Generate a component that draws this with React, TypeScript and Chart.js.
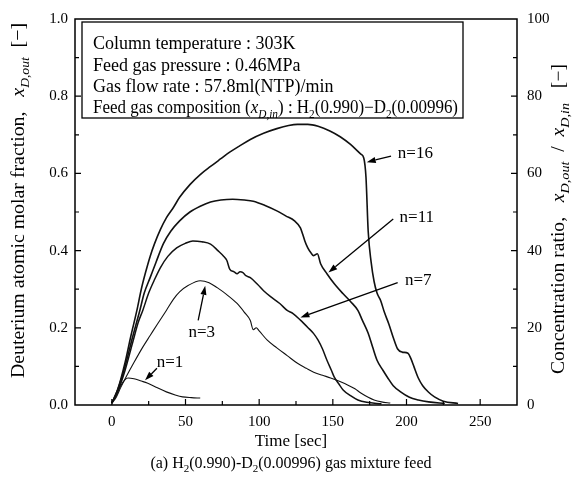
import React, { useEffect, useRef } from 'react';
import { Chart, registerables } from 'chart.js';
Chart.register(...registerables);

// ---- data (time [sec], deuterium atomic molar fraction) ----
const timeN16 = [0, 4, 9, 13, 17, 20, 23, 26, 29, 33, 37, 42, 46, 53, 60, 67, 74, 80, 87, 94, 103, 112, 120, 126, 133, 140, 148, 155, 162, 169, 171, 172.5, 174, 176, 178, 180, 182.5, 185, 188, 191, 194, 197, 201, 203, 205, 208, 211, 215, 219, 225, 235];
const fracN16 = [0.005, 0.04, 0.11, 0.18, 0.245, 0.3, 0.345, 0.385, 0.418, 0.455, 0.485, 0.513, 0.538, 0.571, 0.597, 0.618, 0.638, 0.655, 0.672, 0.688, 0.704, 0.716, 0.724, 0.727, 0.727, 0.722, 0.71, 0.695, 0.675, 0.65, 0.64, 0.59, 0.45, 0.37, 0.32, 0.29, 0.27, 0.24, 0.21, 0.175, 0.145, 0.137, 0.134, 0.12, 0.1, 0.07, 0.05, 0.033, 0.021, 0.01, 0.004];

const timeN11 = [0, 4, 9, 14, 19, 22, 26, 30, 35, 40, 46, 53, 60, 67, 74, 82, 90, 96, 104, 112, 118, 124, 128, 129.5, 131, 133, 135, 137, 139.5, 141.7, 146, 151, 157, 162, 167, 170, 174, 177, 180, 184, 187, 191, 196, 202, 208, 215, 226];
const fracN11 = [0.005, 0.04, 0.1, 0.175, 0.245, 0.29, 0.33, 0.37, 0.418, 0.45, 0.477, 0.5, 0.515, 0.526, 0.531, 0.533, 0.531, 0.528, 0.517, 0.503, 0.49, 0.477, 0.459, 0.443, 0.425, 0.407, 0.395, 0.387, 0.392, 0.366, 0.34, 0.314, 0.288, 0.268, 0.245, 0.22, 0.186, 0.15, 0.116, 0.09, 0.072, 0.05, 0.034, 0.02, 0.013, 0.008, 0.004];

const timeN7 = [0, 4, 9, 14, 18, 21, 25, 29, 33, 38, 44, 50, 55, 61, 67, 72, 76, 78, 80, 83, 85, 87, 89, 91, 94, 99, 103, 108, 114, 119, 123, 128, 133, 137, 140, 143, 146, 149, 151, 154, 157, 162, 167, 173, 183];
const fracN7 = [0.005, 0.035, 0.09, 0.16, 0.215, 0.245, 0.29, 0.325, 0.356, 0.385, 0.407, 0.419, 0.425, 0.423, 0.417, 0.4, 0.385, 0.375, 0.352, 0.345, 0.34, 0.345, 0.343, 0.335, 0.33, 0.312, 0.296, 0.28, 0.263, 0.245, 0.237, 0.22, 0.201, 0.185, 0.168, 0.145, 0.116, 0.09, 0.072, 0.055, 0.039, 0.024, 0.013, 0.007, 0.003];

const timeN3 = [0, 3, 6, 10, 15, 21, 26, 31, 37, 42, 46, 52, 60, 66, 71.5, 78, 85, 90, 94, 96, 98, 100, 105.5, 112, 119, 126, 132, 137, 143, 148.5, 154, 160, 165, 169, 174, 178, 183, 189];
const fracN3 = [0.005, 0.02, 0.045, 0.075, 0.11, 0.15, 0.18, 0.21, 0.245, 0.275, 0.293, 0.31, 0.322, 0.317, 0.304, 0.286, 0.263, 0.24, 0.219, 0.195, 0.2, 0.192, 0.168, 0.148, 0.128, 0.108, 0.095, 0.085, 0.077, 0.07, 0.062, 0.052, 0.042, 0.031, 0.02, 0.013, 0.008, 0.005];

const timeN1 = [0, 3, 6, 9, 11, 15, 20, 24, 30, 37, 43, 48, 54, 60];
const fracN1 = [0.005, 0.025, 0.05, 0.066, 0.07, 0.068, 0.062, 0.057, 0.046, 0.034, 0.026, 0.021, 0.019, 0.018];

const seriesNames = ['n=16', 'n=11', 'n=7', 'n=3', 'n=1'];
const seriesTimes = [timeN16, timeN11, timeN7, timeN3, timeN1];
const seriesFracs = [fracN16, fracN11, fracN7, fracN3, fracN1];
const seriesWidths = [1.6, 1.6, 1.5, 1.1, 1.1];

// annotation labels & arrows (data coords)
const labelT = [206, 207, 208, 61, 39.5];
const labelY = [0.652, 0.485, 0.322, 0.188, 0.111];
const arrowFromT = [189.5, 191, 194, 58.6, 30.6];
const arrowFromY = [0.645, 0.482, 0.317, 0.219, 0.095];
const arrowToT = [173, 147, 128, 63.4, 22.5];
const arrowToY = [0.629, 0.343, 0.227, 0.309, 0.064];

const xTicks = [0, 50, 100, 150, 200, 250];
const leftTicks = [0, 0.2, 0.4, 0.6, 0.8, 1.0];
const rightTicks = [0, 20, 40, 60, 80, 100];

const SERIF = '"Liberation Serif", "DejaVu Serif", serif';

type Seg = { t: string; it?: boolean; sub?: boolean };

function drawRich(ctx: CanvasRenderingContext2D, segs: Seg[], x: number, y: number, size: number, align: 'left' | 'center', fitWidth?: number, subScale = 0.66) {
  const fontOf = (s: Seg) => `${s.it ? 'italic ' : ''}${s.sub ? Math.round(size * subScale) : size}px ${SERIF}`;
  let total = 0;
  for (const s of segs) {
    ctx.font = fontOf(s);
    total += ctx.measureText(s.t).width;
  }
  const k = fitWidth ? fitWidth / total : 1;
  ctx.save();
  ctx.translate(x, y);
  ctx.scale(k, 1);
  let cx = align === 'center' ? -total / 2 : 0;
  ctx.textAlign = 'left';
  ctx.textBaseline = 'alphabetic';
  for (const s of segs) {
    ctx.font = fontOf(s);
    ctx.fillText(s.t, cx, s.sub ? size * 0.25 : 0);
    cx += ctx.measureText(s.t).width;
  }
  ctx.restore();
  return total * k;
}

function arrow(ctx: CanvasRenderingContext2D, x1: number, y1: number, x2: number, y2: number) {
  const ang = Math.atan2(y2 - y1, x2 - x1);
  const L = 9, W = 3;
  const bx = x2 - L * Math.cos(ang), by = y2 - L * Math.sin(ang);
  ctx.beginPath();
  ctx.moveTo(x1, y1);
  ctx.lineTo(bx, by);
  ctx.stroke();
  ctx.beginPath();
  ctx.moveTo(x2, y2);
  ctx.lineTo(bx + W * Math.sin(ang), by - W * Math.cos(ang));
  ctx.lineTo(bx - W * Math.sin(ang), by + W * Math.cos(ang));
  ctx.closePath();
  ctx.fill();
}

const decorPlugin = {
  id: 'decor',
  afterDraw(chart: any) {
    const { ctx, chartArea: a, scales } = chart;
    const xs = scales.x, ys = scales.y;
    ctx.save();
    ctx.strokeStyle = '#000';
    ctx.fillStyle = '#000';
    // frame
    ctx.lineWidth = 1.5;
    ctx.strokeRect(a.left, a.top, a.right - a.left, a.bottom - a.top);
    // ticks
    ctx.lineWidth = 1.2;
    ctx.beginPath();
    for (let v = -25; v <= 275; v += 25) {
      const px = xs.getPixelForValue(v);
      if (px <= a.left + 1 || px >= a.right - 1) continue;
      const len = v % 50 === 0 ? 6 : 4;
      ctx.moveTo(px, a.bottom);
      ctx.lineTo(px, a.bottom - len);
    }
    for (let i = 1; i < 10; i++) {
      const py = ys.getPixelForValue(i / 10);
      const len = i % 2 === 0 ? 6 : 4;
      ctx.moveTo(a.left, py);
      ctx.lineTo(a.left + len, py);
      ctx.moveTo(a.right, py);
      ctx.lineTo(a.right - len, py);
    }
    ctx.stroke();

    // info box
    const bx = 82, by = 22, bw = 381, bh = 96;
    ctx.fillStyle = '#fff';
    ctx.fillRect(bx, by, bw, bh);
    ctx.fillStyle = '#000';
    ctx.lineWidth = 1.3;
    ctx.strokeRect(bx, by, bw, bh);
    const fs = 18;
    drawRich(ctx, [{ t: 'Column temperature : 303K' }], 93, 49, fs, 'left');
    drawRich(ctx, [{ t: 'Feed gas pressure : 0.46MPa' }], 93, 71, fs, 'left');
    drawRich(ctx, [{ t: 'Gas flow rate : 57.8ml(NTP)/min' }], 93, 92, fs, 'left');
    drawRich(ctx, [
      { t: 'Feed gas composition (' },
      { t: 'x', it: true },
      { t: 'D,in', it: true, sub: true },
      { t: ') : H' },
      { t: '2', sub: true },
      { t: '(0.990)\u2212D' },
      { t: '2', sub: true },
      { t: '(0.00996)' },
    ], 93, 113, fs, 'left', 365);

    // series labels and arrows
    ctx.lineWidth = 1.3;
    for (let i = 0; i < seriesNames.length; i++) {
      const lx = xs.getPixelForValue(labelT[i]);
      const ly = ys.getPixelForValue(labelY[i]);
      ctx.font = `17px ${SERIF}`;
      ctx.textAlign = 'center';
      ctx.textBaseline = 'middle';
      ctx.fillText(seriesNames[i], lx, ly);
      arrow(ctx,
        xs.getPixelForValue(arrowFromT[i]), ys.getPixelForValue(arrowFromY[i]),
        xs.getPixelForValue(arrowToT[i]), ys.getPixelForValue(arrowToY[i]));
    }

    // axis titles
    ctx.save();
    ctx.translate(24, 378);
    ctx.rotate(-Math.PI / 2);
    drawRich(ctx, [
      { t: 'Deuterium atomic molar fraction,   ' },
      { t: 'x', it: true },
      { t: 'D,out', it: true, sub: true },
      { t: '  [\u2212]' },
    ], 0, 0, 19, 'left', 355, 0.7);
    ctx.restore();

    ctx.save();
    ctx.translate(564, 374);
    ctx.rotate(-Math.PI / 2);
    drawRich(ctx, [
      { t: 'Concentration ratio,   ' },
      { t: 'x', it: true },
      { t: 'D,out', it: true, sub: true },
      { t: '  /  ' },
      { t: 'x', it: true },
      { t: 'D,in', it: true, sub: true },
      { t: '   [\u2212]' },
    ], 0, 0, 18, 'left', 310, 0.72);
    ctx.restore();

    const midX = (a.left + a.right) / 2;
    drawRich(ctx, [{ t: 'Time [sec]' }], midX - 5, 446, 17, 'center');
    drawRich(ctx, [
      { t: '(a) H' },
      { t: '2', sub: true },
      { t: '(0.990)-D' },
      { t: '2', sub: true },
      { t: '(0.00996) gas mixture feed' },
    ], midX - 5, 468, 16, 'center');
    ctx.restore();
  },
};

export default function App() {
  const ref = useRef<HTMLCanvasElement>(null);
  useEffect(() => {
    if (!ref.current) return;
    const datasets = seriesNames.map((name, i) => ({
      label: name,
      data: seriesTimes[i].map((t, j) => ({ x: t, y: seriesFracs[i][j] })),
      borderColor: '#111',
      borderWidth: seriesWidths[i],
      pointRadius: 0,
      showLine: true,
      fill: false,
      cubicInterpolationMode: 'monotone' as const,
      yAxisID: 'y',
    }));
    const tickFont = { family: SERIF, size: 15 };
    const chart = new Chart(ref.current, {
      type: 'scatter',
      data: { datasets },
      options: {
        responsive: false,
        animation: false,
        layout: { padding: { top: 17, left: 0, right: 0, bottom: 0 } },
        plugins: { legend: { display: false }, tooltip: { enabled: false } },
        scales: {
          x: {
            type: 'linear',
            min: -25,
            max: 275,
            grid: { display: false, drawTicks: false, tickLength: 0 },
            border: { display: false },
            afterBuildTicks: (s: any) => { s.ticks = xTicks.map((v) => ({ value: v })); },
            ticks: { color: '#000', font: tickFont, padding: 8, maxRotation: 0 },
            afterFit: (s: any) => { s.height = 81; },
          },
          y: {
            type: 'linear',
            position: 'left',
            min: 0,
            max: 1,
            grid: { display: false, drawTicks: false, tickLength: 0 },
            border: { display: false },
            afterBuildTicks: (s: any) => { s.ticks = leftTicks.map((v) => ({ value: v })); },
            ticks: { color: '#000', font: tickFont, padding: 7, callback: (v: any) => Number(v).toFixed(1) },
            afterFit: (s: any) => { s.width = 75; },
          },
          y2: {
            type: 'linear',
            position: 'right',
            min: 0,
            max: 100,
            grid: { display: false, drawTicks: false, tickLength: 0 },
            border: { display: false },
            afterBuildTicks: (s: any) => { s.ticks = rightTicks.map((v) => ({ value: v })); },
            ticks: { color: '#000', font: tickFont, padding: 10 },
            afterFit: (s: any) => { s.width = 55; },
          },
        },
      },
      plugins: [decorPlugin],
    });
    return () => chart.destroy();
  }, []);
  return (
    <div style={{ position: 'fixed', left: 0, top: 0, width: 572, height: 486, background: '#fff' }}>
      <canvas ref={ref} width={572} height={486} />
    </div>
  );
}
